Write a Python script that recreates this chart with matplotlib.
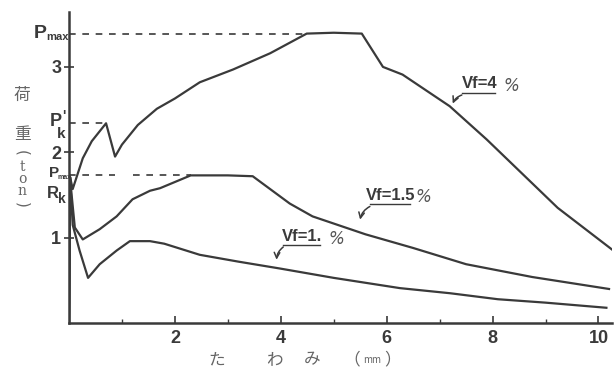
import matplotlib.pyplot as plt

# load-deflection readings (deflection mm, load ton)
x_vf4 = [0, 0.02, 0.07, 0.26, 0.43, 0.7, 0.87, 1.0, 1.3, 1.66, 2.0, 2.47, 3.1, 3.8, 4.49, 5.0, 5.53, 5.93, 6.3, 7.19, 7.89, 9.23, 10.26]
y_vf4 = [0, 1.71, 1.57, 1.93, 2.13, 2.34, 1.95, 2.09, 2.32, 2.51, 2.63, 2.82, 2.97, 3.16, 3.39, 3.40, 3.39, 3.0, 2.91, 2.54, 2.15, 1.35, 0.86]

x_vf15 = [0, 0.02, 0.05, 0.11, 0.26, 0.58, 0.9, 1.2, 1.53, 1.72, 2.3, 3.0, 3.47, 4.17, 4.6, 5.6, 6.5, 7.5, 8.75, 10.2]
y_vf15 = [0, 1.71, 1.5, 1.12, 0.98, 1.1, 1.25, 1.45, 1.55, 1.58, 1.73, 1.73, 1.72, 1.40, 1.25, 1.04, 0.88, 0.69, 0.54, 0.40]

x_vf1 = [0, 0.02, 0.07, 0.2, 0.36, 0.58, 0.9, 1.15, 1.53, 1.8, 2.47, 3.2, 3.98, 5.0, 6.25, 7.2, 8.1, 9.0, 10.15]
y_vf1 = [0, 1.71, 1.15, 0.85, 0.53, 0.69, 0.85, 0.96, 0.96, 0.93, 0.80, 0.72, 0.64, 0.53, 0.41, 0.35, 0.28, 0.24, 0.18]

x_ticks = [2, 4, 6, 8, 10]
y_ticks = [1, 2, 3]

ink = "#3a3a3a"
num_font = ["Liberation Sans", "DejaVu Sans"]
jp_font = ["Noto Sans CJK JP", "DejaVu Sans"]

fig = plt.figure(figsize=(6.16, 3.71), dpi=100)
ax = fig.add_axes([0.112, 0.129, 0.881, 0.838])

for xs, ys in [(x_vf4, y_vf4), (x_vf15, y_vf15), (x_vf1, y_vf1)]:
    ax.plot(xs, ys, color=ink, lw=1.6, solid_joinstyle="round")

# reference levels
dash = dict(color=ink, lw=1.2, ls=(0, (4, 4)))
ax.plot([0, 4.49], [3.39, 3.39], **dash)
ax.plot([0, 0.7], [2.34, 2.34], **dash)
ax.plot([0, 0.87], [1.73, 1.73], **dash)
ax.plot([1.2, 2.3], [1.73, 1.73], **dash)

ax.set_xlim(0, 10.25)
ax.set_ylim(0, 3.64)
for s in ["top", "right"]:
    ax.spines[s].set_visible(False)
for s in ["left", "bottom"]:
    ax.spines[s].set_color(ink)
    ax.spines[s].set_linewidth(1.8)

ax.set_xticks(x_ticks)
ax.set_xticks([1, 3, 5, 7, 9], minor=True)
ax.set_yticks(y_ticks)
ax.tick_params(axis="x", which="major", direction="in", length=5, width=1.2, colors=ink, pad=5)
ax.tick_params(axis="x", which="minor", direction="in", length=3, width=1, colors=ink)
ax.tick_params(axis="y", direction="inout", length=7, width=1.2, colors=ink, pad=2)
for lab in ax.get_xticklabels() + ax.get_yticklabels():
    lab.set_family(num_font)
    lab.set_fontweight("bold")
    lab.set_fontsize(13)
    lab.set_color(ink)

# P labels on the load axis
def lbl(x, y, s, size=12, ha="center"):
    ax.text(x, y, s, fontsize=size, family=num_font, fontweight="bold", color=ink,
            ha=ha, va="center", clip_on=False)

lbl(-0.43, 3.39, "P", 14, ha="right")
lbl(-0.43, 3.35, "max", 8, ha="left")
lbl(-0.24, 2.36, "P", 13)
lbl(-0.1, 2.43, "'", 10)
lbl(-0.14, 2.21, "k", 11)
lbl(-0.28, 1.76, "P", 11)
lbl(-0.21, 1.71, "max", 5, ha="left")
lbl(-0.31, 1.52, "R", 12)
lbl(-0.13, 1.45, "k", 10)

# curve labels with underline and arrow
def vf(tx, ty, s, px, x0, x1, uy, tip):
    ax.text(tx, ty, s, fontsize=12, family=num_font, fontweight="bold", color=ink,
            ha="center", va="center")
    ax.text(px, ty - 0.02, "%", fontsize=12, style="italic", color="#555555",
            ha="center", va="center")
    ax.plot([x0, x1], [uy, uy], color=ink, lw=1)
    ax.annotate("", xy=tip, xytext=(x0 + 0.05, uy - 0.01),
                arrowprops=dict(arrowstyle="->", color=ink, lw=1.1,
                                connectionstyle="arc3,rad=0.3"))

vf(7.76, 2.80, "Vf=4", 8.36, 7.42, 8.05, 2.69, (7.23, 2.54))
vf(6.08, 1.50, "Vf=1.5", 6.70, 5.68, 6.45, 1.39, (5.49, 1.18))
vf(4.40, 1.01, "Vf=1.", 5.05, 4.04, 4.75, 0.92, (3.92, 0.71))

# axis titles
for ch, xp in [("た", 217), ("わ", 274), ("み", 312), ("（", 352), ("mm", 372), ("）", 393)]:
    fig.text(xp / 616, 1 - 360 / 371, ch, fontsize=12 if ch != "mm" else 7, family=jp_font,
             color="#666666", ha="center", va="center")
for ch, yp in [("荷", 95), ("重", 135)]:
    fig.text(22 / 616, 1 - yp / 371, ch, fontsize=12, family=jp_font, color="#666666",
             ha="center", va="center")
fig.text(22 / 616, 1 - 153 / 371, "(", fontsize=11, color="#666666", rotation=-90, ha="center", va="center")
for ch, yp in [("t", 167), ("o", 179), ("n", 191)]:
    fig.text(22 / 616, 1 - yp / 371, ch, fontsize=10, family="DejaVu Serif", color="#666666",
             ha="center", va="center")
fig.text(22 / 616, 1 - 205 / 371, ")", fontsize=11, color="#666666", rotation=-90, ha="center", va="center")

fig.savefig("out.png", dpi=100)
